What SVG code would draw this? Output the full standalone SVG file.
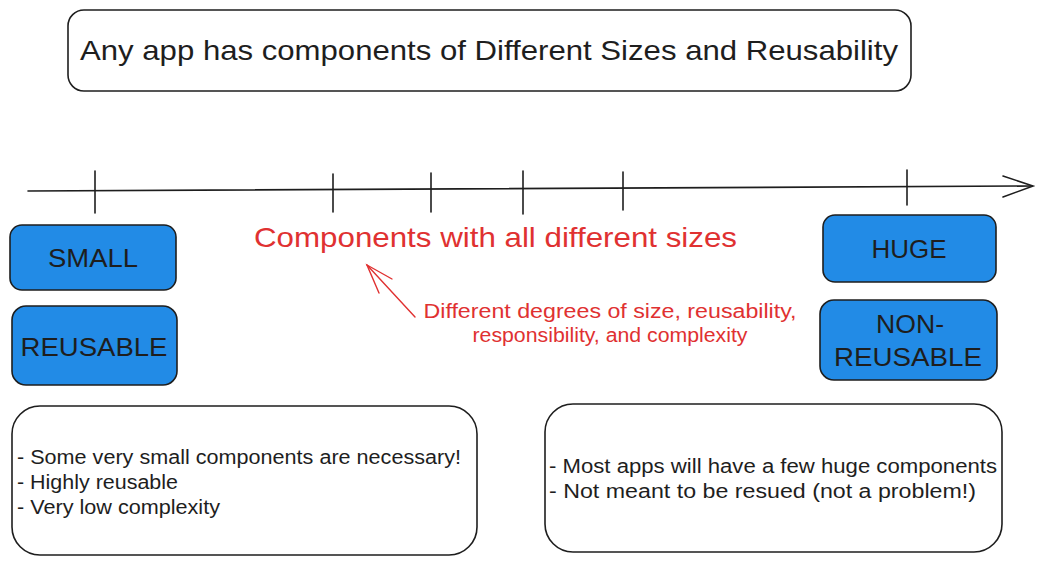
<svg xmlns="http://www.w3.org/2000/svg" width="1044" height="566" viewBox="0 0 1044 566">
<style>
.box{fill:#ffffff;stroke:#1e1e1e;stroke-width:1.6}
.blue{fill:#228be6;stroke:#1e1e1e;stroke-width:1.6}
.t{font-family:"Liberation Sans",Arial,sans-serif;fill:#1e1e1e}
.c{text-anchor:middle}
.red{font-family:"Liberation Sans",Arial,sans-serif;fill:#e03131}
.ln{stroke:#1e1e1e;stroke-width:1.6;fill:none;stroke-linecap:round}
.rl{stroke:#e03131;stroke-width:1.4;fill:none;stroke-linecap:round}
</style>
<rect width="1044" height="566" fill="#ffffff"/>
<g id="title">
<rect class="box" x="68" y="10" width="843" height="81" rx="16"/>
<text class="t" x="80" y="60" font-size="28" textLength="818" lengthAdjust="spacingAndGlyphs">Any app has components of Different Sizes and Reusability</text>
</g>
<g id="connectors">
<path class="ln" d="M28 191 L1032 186"/>
<path class="ln" d="M1003 176 L1033 186 L1003 197"/>
<path class="ln" d="M95 171 L95 213"/>
<path class="ln" d="M333 174 L333 212"/>
<path class="ln" d="M431 173 L431 212"/>
<path class="ln" d="M523 171 L523 214"/>
<path class="ln" d="M623 172 L623 210"/>
<path class="ln" d="M907 170 L907 205"/>
<path class="rl" d="M415 317 L367 265"/>
<path class="rl" d="M392 279 L367 265 L379 293"/>
</g>
<g id="small">
<rect class="blue" x="10" y="225" width="166" height="65" rx="12"/>
<text class="t c" x="93" y="267" font-size="26" textLength="90" lengthAdjust="spacingAndGlyphs">SMALL</text>
</g>
<g id="reusable">
<rect class="blue" x="12" y="306" width="165" height="79" rx="14"/>
<text class="t c" x="94" y="356" font-size="26" textLength="147" lengthAdjust="spacingAndGlyphs">REUSABLE</text>
</g>
<g id="huge">
<rect class="blue" x="823" y="215" width="173" height="67" rx="12"/>
<text class="t c" x="909" y="258" font-size="26" textLength="75" lengthAdjust="spacingAndGlyphs">HUGE</text>
</g>
<g id="non-reusable">
<rect class="blue" x="820" y="300" width="177" height="80" rx="14"/>
<text class="t c" x="910" y="333" font-size="26" textLength="68" lengthAdjust="spacingAndGlyphs">NON-</text>
<text class="t c" x="908" y="366" font-size="26" textLength="148" lengthAdjust="spacingAndGlyphs">REUSABLE</text>
</g>
<g id="heading">
<text class="red" x="254" y="247" font-size="28" textLength="483" lengthAdjust="spacingAndGlyphs">Components with all different sizes</text>
</g>
<g id="note">
<text class="red c" x="610" y="318" font-size="20" textLength="373" lengthAdjust="spacingAndGlyphs">Different degrees of size, reusability,</text>
<text class="red c" x="610" y="342" font-size="20" textLength="275" lengthAdjust="spacingAndGlyphs">responsibility, and complexity</text>
</g>
<g id="small-desc">
<rect class="box" x="12" y="406" width="465" height="149" rx="28"/>
<text class="t" x="17" y="464" font-size="20" textLength="444" lengthAdjust="spacingAndGlyphs">- Some very small components are necessary!</text>
<text class="t" x="17" y="489" font-size="20" textLength="161" lengthAdjust="spacingAndGlyphs">- Highly reusable</text>
<text class="t" x="17" y="514" font-size="20" textLength="203" lengthAdjust="spacingAndGlyphs">- Very low complexity</text>
</g>
<g id="huge-desc">
<rect class="box" x="545" y="404" width="457" height="148" rx="28"/>
<text class="t" x="549" y="473" font-size="20" textLength="448" lengthAdjust="spacingAndGlyphs">- Most apps will have a few huge components</text>
<text class="t" x="549" y="498" font-size="20" textLength="427" lengthAdjust="spacingAndGlyphs">- Not meant to be resued (not a problem!)</text>
</g>
</svg>
